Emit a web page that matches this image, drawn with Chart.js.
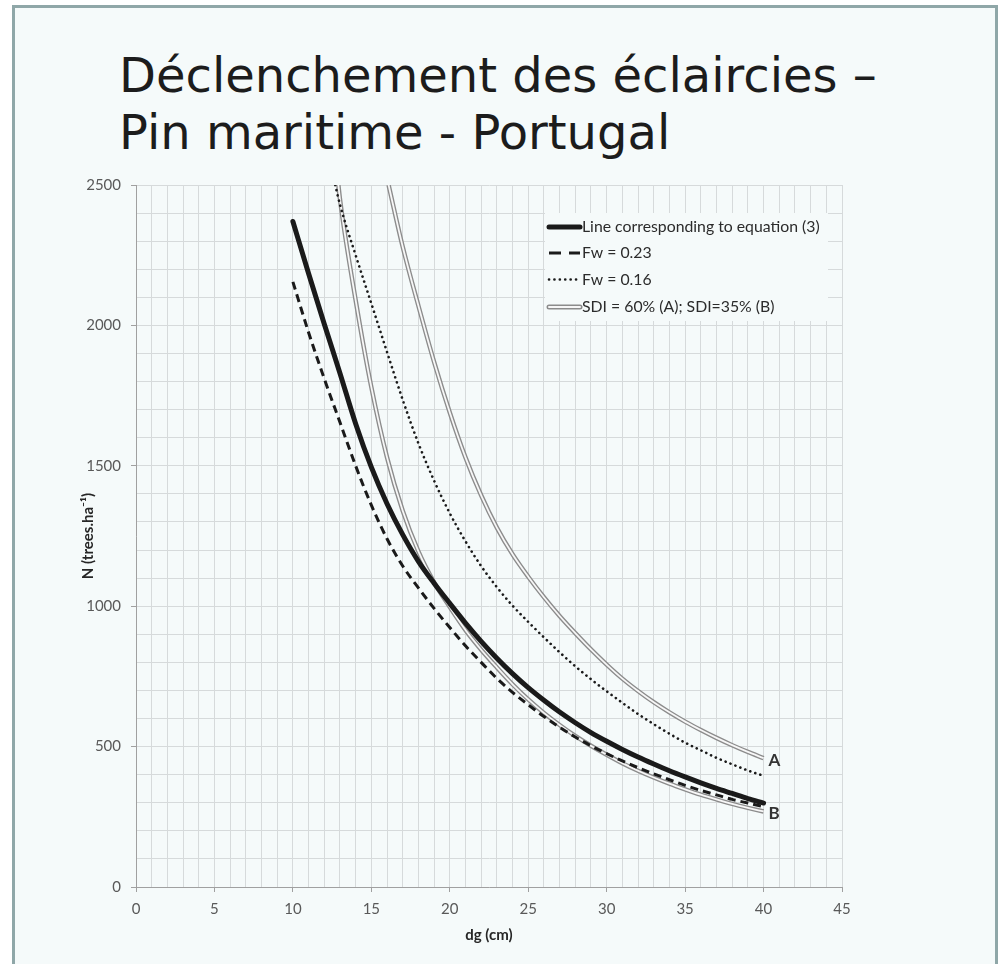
<!DOCTYPE html>
<html>
<head>
<meta charset="utf-8">
<script src="https://cdn.jsdelivr.net/npm/chart.js@4.4.1/dist/chart.umd.min.js"></script>
<style>
  html, body { margin: 0; padding: 0; background: #ffffff; }
  body { width: 1005px; height: 964px; position: relative; overflow: hidden; }
  #frame { position: absolute; left: 12px; top: 5px; width: 986px; height: 1000px; border: 3px solid #8fa7a8; background: #f5fafa; box-sizing: border-box; }
  #title { position: absolute; left: 119px; top: 47px; margin: 0; font-family: "DejaVu Sans", sans-serif; font-weight: normal; font-size: 48px; line-height: 57px; color: #1c1c1c; white-space: nowrap; }
  #chart { position: absolute; left: 0; top: 0; }
</style>
</head>
<body>
<div id="frame"></div>
<h1 id="title">Déclenchement des éclaircies –<br>Pin maritime - Portugal</h1>
<canvas id="chart" width="1005" height="964"></canvas>
<script>
// axes
const xTickLabels = [0, 5, 10, 15, 20, 25, 30, 35, 40, 45];
const yTickLabels = [0, 500, 1000, 1500, 2000, 2500];

// ligne de l'équation (3)
const dgEq = [10, 11, 12, 13, 14, 15, 16, 17, 18, 19, 20, 21, 22, 23, 24, 25, 26, 27, 28, 29, 30, 31, 32, 33, 34, 35, 36, 37, 38, 39, 40];
const nEq  = [2370, 2185, 2005, 1830, 1650, 1495, 1365, 1255, 1160, 1082, 1010, 940, 875, 815, 760, 710, 665, 623, 585, 550, 519, 490, 463, 438, 414, 392, 371, 351, 333, 315, 299];

// Fw = 0.23
const dgFw23 = [10, 11, 12, 13, 14, 15, 16, 17, 18, 19, 20, 21, 22, 23, 24, 25, 26, 27, 28, 29, 30, 31, 32, 33, 34, 35, 36, 37, 38, 39, 40];
const nFw23  = [2155, 1975, 1810, 1655, 1500, 1360, 1240, 1143, 1065, 992, 924, 859, 800, 743, 693, 649, 607, 569, 534, 503, 475, 449, 425, 403, 382, 362, 344, 328, 312, 299, 286];

// Fw = 0.16
const dgFw16 = [12.7, 13, 14, 15, 16, 17, 18, 19, 20, 21, 22, 23, 24, 25, 26, 27, 28, 29, 30, 31, 32, 33, 34, 35, 36, 37, 38, 39, 40];
const nFw16  = [2500, 2430, 2250, 2078, 1905, 1735, 1580, 1447, 1331, 1231, 1143, 1068, 1002, 944, 889, 836, 786, 740, 697, 656, 616, 580, 546, 514, 487, 460, 437, 415, 396];

// SDI = 60% (A)
const dgSdiA = [16.1, 17, 18, 19, 20, 21, 22, 23, 24, 25, 26, 27, 28, 29, 30, 31, 32, 33, 34, 35, 36, 37, 38, 39, 40];
const nSdiA  = [2500, 2280, 2070, 1870, 1690, 1530, 1395, 1280, 1185, 1105, 1032, 965, 904, 846, 792, 742, 698, 658, 622, 589, 559, 531, 505, 481, 459];

// SDI = 35% (B)
const dgSdiB = [12.9, 13, 14, 15, 16, 17, 18, 19, 20, 21, 22, 23, 24, 25, 26, 27, 28, 29, 30, 31, 32, 33, 34, 35, 36, 37, 38, 39, 40];
const nSdiB  = [2500, 2450, 2090, 1780, 1530, 1340, 1195, 1085, 997, 915, 845, 782, 722, 668, 620, 577, 538, 503, 471, 441, 414, 390, 368, 348, 329, 312, 296, 282, 269];

const seriesLabels = ["Line corresponding to equation (3)", "Fw = 0.23", "Fw = 0.16", "SDI = 60% (A); SDI=35% (B)"];
const endLabels = ["A", "B"];

const pts = (xs, ys) => xs.map((x, i) => ({ x, y: ys[i] }));

const BG = "#f5fafa";
const INK = "#1a1a1a";

// légende dessinée dans la zone du graphique
const insideLegend = {
  id: "insideLegend",
  afterDatasetsDraw(chart) {
    const { ctx, chartArea } = chart;
    const bx = chartArea.left + 409, by = chartArea.top + 28;
    ctx.save();
    ctx.fillStyle = BG;
    ctx.fillRect(bx, by, 283, 108);
    const x0 = chartArea.left + 413, x1 = chartArea.left + 444;
    const rows = [227, 253, 279.5, 307].map(v => v - 185 + chartArea.top);
    const line = (y, w, col, dash, cap) => {
      ctx.beginPath();
      ctx.setLineDash(dash);
      ctx.lineCap = cap;
      ctx.lineWidth = w;
      ctx.strokeStyle = col;
      ctx.moveTo(x0, y);
      ctx.lineTo(x1, y);
      ctx.stroke();
    };
    line(rows[0], 5, INK, [], "round");
    line(rows[1], 3, INK, [12, 8], "butt");
    line(rows[2], 2.6, INK, [0.1, 5.3], "round");
    line(rows[3], 5, "#8c8c8c", [], "round");
    line(rows[3], 2, "#f7f7f7", [], "round");
    ctx.setLineDash([]);
    ctx.fillStyle = "#2b2b2b";
    ctx.font = "15.8px Lato";
    ctx.textBaseline = "middle";
    ctx.textAlign = "left";
    seriesLabels.forEach((t, i) => ctx.fillText(t, x1 + 2, rows[i]));
    ctx.restore();
  }
};

// étiquettes A et B au bout des courbes SDI
const curveTags = {
  id: "curveTags",
  afterDatasetsDraw(chart) {
    const { ctx, scales } = chart;
    const ends = [[dgSdiA, nSdiA], [dgSdiB, nSdiB]];
    ctx.save();
    ctx.font = "bold 17px Lato";
    ctx.fillStyle = "#333333";
    ctx.textBaseline = "middle";
    ends.forEach(([xs, ys], i) => {
      const last = xs.length - 1;
      ctx.fillText(endLabels[i], scales.x.getPixelForValue(xs[last]) + 5, scales.y.getPixelForValue(ys[last]) + 2);
    });
    ctx.restore();
  }
};

const sdiOuter = { borderColor: "#8c8c8c", borderWidth: 4.5, order: 10 };
const sdiInner = { borderColor: "#f7f7f7", borderWidth: 1.8, order: 9 };

new Chart(document.getElementById("chart"), {
  type: "line",
  data: {
    datasets: [
      { label: seriesLabels[0], data: pts(dgEq, nEq), borderColor: INK, borderWidth: 5, borderCapStyle: "round", order: 3 },
      { label: seriesLabels[1], data: pts(dgFw23, nFw23), borderColor: INK, borderWidth: 3, borderDash: [8, 5], order: 1 },
      { label: seriesLabels[2], data: pts(dgFw16, nFw16), borderColor: INK, borderWidth: 2.6, borderDash: [0.1, 5.2], borderCapStyle: "round", order: 2 },
      { label: seriesLabels[3], data: pts(dgSdiA, nSdiA), ...sdiOuter },
      { label: seriesLabels[3], data: pts(dgSdiB, nSdiB), ...sdiOuter },
      { label: seriesLabels[3], data: pts(dgSdiA, nSdiA), ...sdiInner },
      { label: seriesLabels[3], data: pts(dgSdiB, nSdiB), ...sdiInner },
    ]
  },
  options: {
    responsive: false,
    animation: false,
    layout: { padding: { left: 79, top: 185, right: 163, bottom: 20 } },
    elements: {
      point: { radius: 0 },
      line: { cubicInterpolationMode: "monotone", fill: false }
    },
    plugins: { legend: { display: false }, tooltip: { enabled: false } },
    scales: {
      x: {
        type: "linear", min: 0, max: 45,
        ticks: {
          stepSize: 1, autoSkip: false, maxRotation: 0, padding: 8,
          color: "#595959", font: { family: "Lato", size: 15 },
          callback: v => xTickLabels.includes(v) ? String(v) : ""
        },
        grid: {
          color: "#d6dadb", tickLength: 5,
          tickColor: c => xTickLabels.includes(c.tick.value) ? "#a0a0a0" : "rgba(0,0,0,0)"
        },
        border: { color: "#a0a0a0" },
        title: { display: true, text: "dg (cm)", color: "#262626", padding: 0, font: { family: "Lato", size: 15, weight: "bold" } },
        afterFit: s => { s.height = 57; }
      },
      y: {
        type: "linear", min: 0, max: 2500,
        ticks: {
          stepSize: 100, autoSkip: false, padding: 10,
          color: "#595959", font: { family: "Lato", size: 15 },
          callback: v => yTickLabels.includes(v) ? String(v) : ""
        },
        grid: {
          color: "#d6dadb", tickLength: 5,
          tickColor: c => yTickLabels.includes(c.tick.value) ? "#a0a0a0" : "rgba(0,0,0,0)"
        },
        border: { color: "#a0a0a0" },
        title: { display: true, text: "N (trees.ha⁻¹)", color: "#262626", padding: 0, font: { family: "Lato", size: 15, weight: "bold" } },
        afterFit: s => { s.width = 57; }
      }
    }
  },
  plugins: [insideLegend, curveTags]
});
</script>
</body>
</html>
